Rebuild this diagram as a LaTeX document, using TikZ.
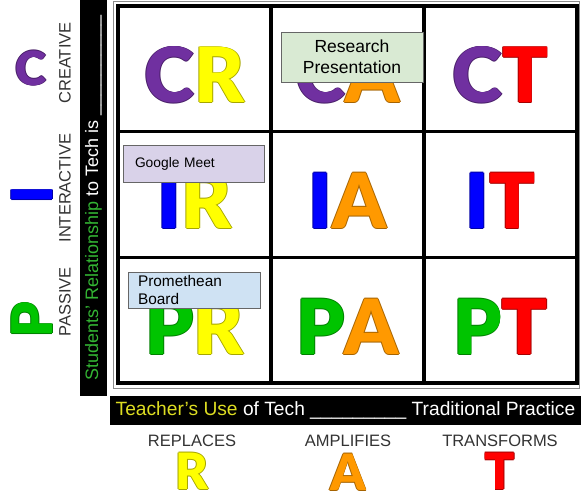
\documentclass[tikz,border=0pt]{standalone}
\usepackage{fontspec}
\setmainfont{Liberation Sans}
\newfontfamily\heavyfont{Lato Black}
\usetikzlibrary{positioning}

\definecolor{ltrC}{HTML}{7030A0}
\definecolor{ltrI}{HTML}{0000FF}
\definecolor{ltrP}{HTML}{00C400}
\definecolor{ltrR}{HTML}{FFFF00}
\definecolor{ltrA}{HTML}{FF9900}
\definecolor{ltrT}{HTML}{FF0000}
\definecolor{stugreen}{HTML}{33B533}
\definecolor{teayellow}{HTML}{DDDD22}
\definecolor{labelgray}{HTML}{333333}
\definecolor{resgreen}{HTML}{D9EAD3}
\definecolor{meetlilac}{HTML}{D9D2E9}
\definecolor{boardblue}{HTML}{CFE2F3}

% letter with a thin darker rim
\newcommand\rimltr[1]{%
  \rlap{\color{ltr#1!65!black}\hspace{-0.7pt}#1}%
  \rlap{\color{ltr#1!65!black}\hspace{0.7pt}#1}%
  \rlap{\color{ltr#1!65!black}\raisebox{0.7pt}{#1}}%
  \rlap{\color{ltr#1!65!black}\raisebox{-0.7pt}{#1}}%
  \textcolor{ltr#1}{#1}}

\tikzset{
  cell/.style={draw, line width=3.5pt, minimum width=153pt, minimum height=125.67pt, inner sep=0pt},
  pairltr/.style={inner sep=0pt, font=\heavyfont\fontsize{76}{76}\selectfont},
  sideltr/.style={inner sep=0pt, font=\heavyfont\fontsize{56}{56}\selectfont},
  footltr/.style={inner sep=0pt, font=\heavyfont\fontsize{50}{50}\selectfont},
  rowword/.style={rotate=90, inner sep=0pt, text=labelgray, font=\fontsize{16.5}{16.5}\selectfont},
  colword/.style={inner sep=0pt, text=labelgray, font=\fontsize{16.5}{16.5}\selectfont},
  blackbar/.style={fill=black, inner sep=0pt, text=white, font=\fontsize{18}{18}\selectfont},
  notebox/.style={draw=black!60, line width=1pt, inner ysep=0pt}
}

\begin{document}
\begin{tikzpicture}[x=1pt,y=-1pt]
  \useasboundingbox (0,0) rectangle (581,498);

  % student axis
  \node[blackbar, rotate=90, minimum width=396pt, minimum height=27pt] (stubar) at (93.5,198)
    {\textcolor{stugreen}{Students’ Relationship} to Tech is \_\_\_\_\_\_\_\_\_\_};
  \node[rowword] (creative)    at (65,63)  {CREATIVE};
  \node[rowword] (interactive) at (65,188) {INTERACTIVE};
  \node[rowword] (passive)     at (65,302) {PASSIVE};
  \node[sideltr, font=\heavyfont\fontsize{47}{47}\selectfont] (sideC) at (31,68) {\rimltr{C}};
  \node[sideltr, rotate=90] (sideI) at (32,195) {\rimltr{I}};
  \node[sideltr, rotate=90] (sideP) at (32,320) {\rimltr{P}};

  % the nine cells
  \draw[black!45, line width=1pt] (113,1) rectangle (579,388);
  \foreach \rl [count=\ri from 0] in {C,I,P}
    \foreach \cl [count=\ci from 0] in {R,A,T} {
      \node[cell] (cell\rl\cl) at ({194.5+153*\ci},{68.8+125.67*\ri}) {};
      \node[pairltr, yshift=-6.5pt] (pair\rl\cl) at (cell\rl\cl) {\rimltr{\rl}\rimltr{\cl}};
    }

  % tools placed on the grid
  \node[notebox, fill=resgreen, minimum width=142pt, minimum height=50pt, align=center,
        font=\fontsize{17.5}{21}\selectfont] (respres) at (352,57) {Research\\Presentation};
  \node[notebox, fill=meetlilac, text width=117pt, inner xsep=12pt, minimum height=37pt, align=left,
        font=\fontsize{13.8}{16}\selectfont] (gmeet) at (193.5,163.5) {Google Meet};
  \node[notebox, fill=boardblue, text width=112pt, inner xsep=10pt, minimum height=36pt, align=left,
        font=\fontsize{15.4}{18}\selectfont] (promboard) at (194,290) {Promethean\\Board};

  % teacher axis
  \node[blackbar, minimum width=471pt, minimum height=29pt, font=\fontsize{19.2}{19.2}\selectfont] (teabar) at (345.5,410.5)
    {\textcolor{teayellow}{Teacher’s Use} of Tech \_\_\_\_\_\_\_\_\_ Traditional Practice};
  \node[colword] (replaces)   at (192,441) {REPLACES};
  \node[colword] (amplifies)  at (348,441) {AMPLIFIES};
  \node[colword] (transforms) at (500,441) {TRANSFORMS};
  \node[footltr, below=5pt of replaces]   (footR) {\rimltr{R}};
  \node[footltr, below=6pt of amplifies]  (footA) {\rimltr{A}};
  \node[footltr, below=5pt of transforms] (footT) {\rimltr{T}};
\end{tikzpicture}
\end{document}
